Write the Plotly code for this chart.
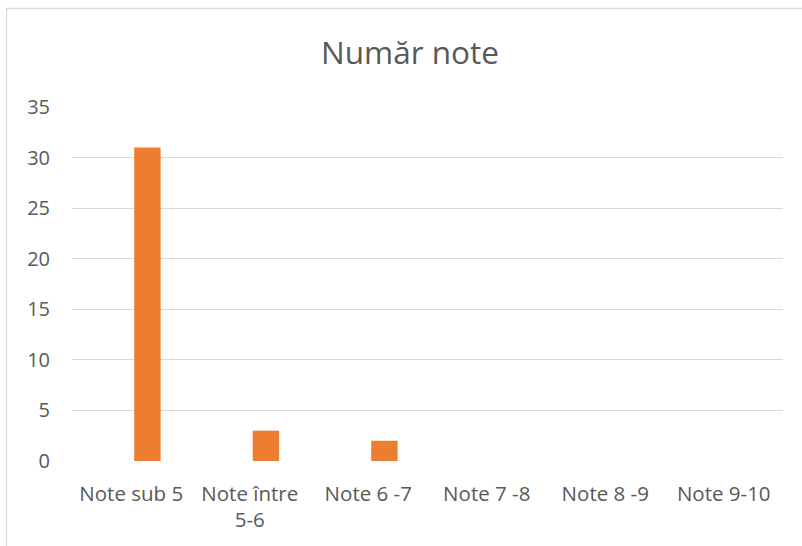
import plotly.graph_objects as go

categories = ["Note sub 5", "Note între<br>5-6", "Note 6 -7", "Note 7 -8", "Note 8 -9", "Note 9-10"]
values = [31, 3, 2, 0, 0, 0]
y_ticks = [0, 5, 10, 15, 20, 25, 30, 35]

W, H = 802, 546
L, R, T, B = 72, 19, 107, 85

fig = go.Figure()
fig.add_trace(go.Bar(
    x=categories, y=values,
    marker=dict(color="#ED7D31", line=dict(width=0)),
    width=0.223, offset=0.025,
    hoverinfo="x+y",
))

plot_w = W - L - R
plot_h = H - T - B

fig.update_layout(
    width=W, height=H,
    margin=dict(l=L, r=R, t=T, b=B, autoexpand=False),
    paper_bgcolor="white", plot_bgcolor="white",
    showlegend=False,
    font=dict(family="Open Sans", color="#595959", size=20),
    title=dict(text="Număr note", x=410 / W, xanchor="center",
               y=1 - 53 / H, yanchor="middle", yref="container",
               font=dict(family="Open Sans", size=31.5, color="#595959")),
    xaxis=dict(showgrid=False, showline=False, zeroline=False, ticks="",
               tickfont=dict(size=20.5, color="#595959"),
               ticklabelstandoff=18, tickangle=0, fixedrange=True),
    yaxis=dict(range=[0, 35], tickvals=y_ticks, showgrid=True,
               gridcolor="#D9D9D9", gridwidth=1.3, zeroline=False, showline=False,
               ticks="", tickfont=dict(size=20, color="#595959"),
               ticklabelstandoff=21, fixedrange=True),
    shapes=[dict(type="rect", xref="paper", yref="paper",
                 x0=(6.5 - L) / plot_w, x1=1.2,
                 y0=-0.5, y1=(H - B - 8.5) / plot_h,
                 line=dict(color="#D9D9D9", width=1.3), layer="below")],
)

fig.write_html("out.html", config={"displayModeBar": False},
               post_script="document.body.style.margin='0';document.body.style.overflow='hidden';")
